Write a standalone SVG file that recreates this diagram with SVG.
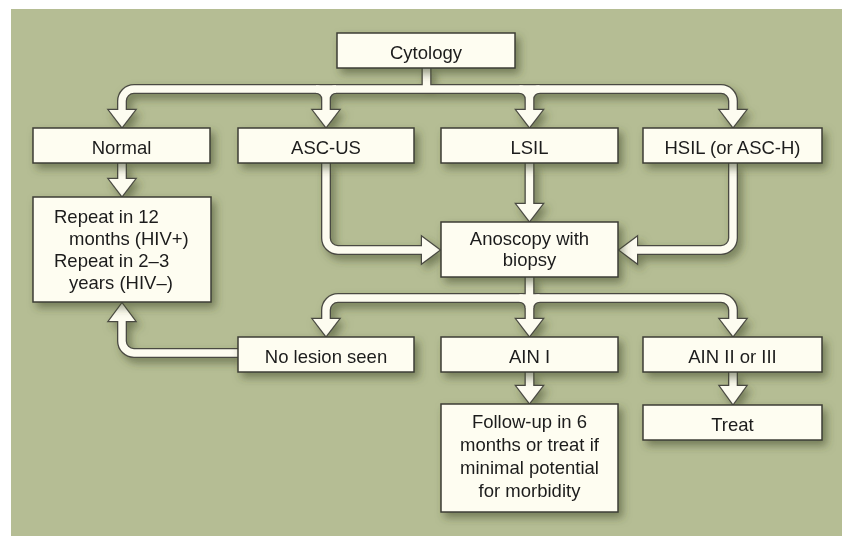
<svg xmlns="http://www.w3.org/2000/svg" width="842" height="536" viewBox="0 0 842 536">
<defs>
<filter id="sh" x="-20%" y="-20%" width="150%" height="180%">
<feDropShadow dx="4" dy="5" stdDeviation="4" flood-color="#3f4628" flood-opacity="0.55"/>
</filter>
</defs>
<style>
.box{fill:#fefdf1;stroke:#3e3e36;stroke-width:1.5}
.t{font-family:"Liberation Sans",Arial,sans-serif;font-size:18.5px;fill:#1c1c1c}
.c{text-anchor:middle}
.od{fill:none;stroke:#4a4a42;stroke-width:10}
.oc{fill:none;stroke:#fdfcf0;stroke-width:7.4}
.hd{fill:#4a4a42;stroke:#4a4a42;stroke-width:2.4;stroke-linejoin:miter}
.hc{fill:#fdfcf0}
</style>
<rect x="11" y="9" width="831" height="527" fill="#b5bd94"/>
<g id="connectors" filter="url(#sh)">
<g id="dark">
<path class="od" d="M426.5 68 V89"/>
<path class="od" d="M122 112 V101 A12 12 0 0 1 134 89 H721 A12 12 0 0 1 733 101 V112"/>
<path class="od" d="M316 89 A10 10 0 0 1 326 99 V112 M336 89 A10 10 0 0 0 326 99"/>
<path class="od" d="M519.5 89 A10 10 0 0 1 529.5 99 V112 M539.5 89 A10 10 0 0 0 529.5 99"/>
<path class="od" d="M122 163 V181"/>
<path class="od" d="M326 163 V238 A12 12 0 0 0 338 250 H424"/>
<path class="od" d="M733 163 V238 A12 12 0 0 1 721 250 H636"/>
<path class="od" d="M529.5 163 V206"/>
<path class="od" d="M529.5 277 V321"/>
<path class="od" d="M326 321 V310 A12 12 0 0 1 338 298 H721 A12 12 0 0 1 733 310 V321"/>
<path class="od" d="M519.5 298 A10 10 0 0 1 529.5 308 M539.5 298 A10 10 0 0 0 529.5 308"/>
<path class="od" d="M238 353 H134 A12 12 0 0 1 122 341 V319"/>
<path class="od" d="M529.5 372 V388"/>
<path class="od" d="M733 372 V388"/>
<polygon class="hd" points="109,110 135,110 122,127"/>
<polygon class="hd" points="313,110 339,110 326,127"/>
<polygon class="hd" points="516.5,110 542.5,110 529.5,127"/>
<polygon class="hd" points="720,110 746,110 733,127"/>
<polygon class="hd" points="109,179 135,179 122,196"/>
<polygon class="hd" points="422,237 422,263 439.5,250"/>
<polygon class="hd" points="637,237 637,263 619.5,250"/>
<polygon class="hd" points="516.5,204 542.5,204 529.5,221"/>
<polygon class="hd" points="313,319 339,319 326,336"/>
<polygon class="hd" points="516.5,319 542.5,319 529.5,336"/>
<polygon class="hd" points="720,319 746,319 733,336"/>
<polygon class="hd" points="109,321 135,321 122,303.5"/>
<polygon class="hd" points="516.5,386 542.5,386 529.5,403"/>
<polygon class="hd" points="720,386 746,386 733,404"/>
</g>
<g id="light">
<path class="oc" d="M426.5 67 V89"/>
<path class="oc" d="M122 112 V101 A12 12 0 0 1 134 89 H721 A12 12 0 0 1 733 101 V112"/>
<path class="oc" d="M316 89 A10 10 0 0 1 326 99 V112 M336 89 A10 10 0 0 0 326 99"/>
<path class="oc" d="M519.5 89 A10 10 0 0 1 529.5 99 V112 M539.5 89 A10 10 0 0 0 529.5 99"/>
<path class="oc" d="M122 163 V181"/>
<path class="oc" d="M326 163 V238 A12 12 0 0 0 338 250 H424"/>
<path class="oc" d="M733 163 V238 A12 12 0 0 1 721 250 H636"/>
<path class="oc" d="M529.5 163 V206"/>
<path class="oc" d="M529.5 276 V321"/>
<path class="oc" d="M326 321 V310 A12 12 0 0 1 338 298 H721 A12 12 0 0 1 733 310 V321"/>
<path class="oc" d="M519.5 298 A10 10 0 0 1 529.5 308 M539.5 298 A10 10 0 0 0 529.5 308"/>
<path class="oc" d="M239 353 H134 A12 12 0 0 1 122 341 V319"/>
<path class="oc" d="M529.5 372 V388"/>
<path class="oc" d="M733 372 V388"/>
<polygon class="hc" points="109,110 135,110 122,127"/>
<polygon class="hc" points="313,110 339,110 326,127"/>
<polygon class="hc" points="516.5,110 542.5,110 529.5,127"/>
<polygon class="hc" points="720,110 746,110 733,127"/>
<polygon class="hc" points="109,179 135,179 122,196"/>
<polygon class="hc" points="422,237 422,263 439.5,250"/>
<polygon class="hc" points="637,237 637,263 619.5,250"/>
<polygon class="hc" points="516.5,204 542.5,204 529.5,221"/>
<polygon class="hc" points="313,319 339,319 326,336"/>
<polygon class="hc" points="516.5,319 542.5,319 529.5,336"/>
<polygon class="hc" points="720,319 746,319 733,336"/>
<polygon class="hc" points="109,321 135,321 122,303.5"/>
<polygon class="hc" points="516.5,386 542.5,386 529.5,403"/>
<polygon class="hc" points="720,386 746,386 733,404"/>
</g>
</g>
<g id="cytology" filter="url(#sh)"><rect class="box" x="337" y="33" width="178" height="35"/><text class="t c" x="426" y="58.5">Cytology</text></g>
<g id="normal" filter="url(#sh)"><rect class="box" x="33" y="128" width="177" height="35"/><text class="t c" x="121.5" y="153.5">Normal</text></g>
<g id="ascus" filter="url(#sh)"><rect class="box" x="238" y="128" width="176" height="35"/><text class="t c" x="326" y="153.5">ASC-US</text></g>
<g id="lsil" filter="url(#sh)"><rect class="box" x="441" y="128" width="177" height="35"/><text class="t c" x="529.5" y="153.5">LSIL</text></g>
<g id="hsil" filter="url(#sh)"><rect class="box" x="643" y="128" width="179" height="35"/><text class="t c" x="732.5" y="153.5">HSIL (or ASC-H)</text></g>
<g id="repeat" filter="url(#sh)"><rect class="box" x="33" y="197" width="178" height="105"/>
<text class="t" x="54" y="223">Repeat in 12</text>
<text class="t" x="69" y="245">months (HIV+)</text>
<text class="t" x="54" y="267">Repeat in 2–3</text>
<text class="t" x="69" y="289">years (HIV–)</text></g>
<g id="anoscopy" filter="url(#sh)"><rect class="box" x="441" y="222" width="177" height="55"/>
<text class="t c" x="529.5" y="245">Anoscopy with</text>
<text class="t c" x="529.5" y="266">biopsy</text></g>
<g id="nolesion" filter="url(#sh)"><rect class="box" x="238" y="337" width="176" height="35"/><text class="t c" x="326" y="362.5">No lesion seen</text></g>
<g id="ain1" filter="url(#sh)"><rect class="box" x="441" y="337" width="177" height="35"/><text class="t c" x="529.5" y="362.5">AIN I</text></g>
<g id="ain23" filter="url(#sh)"><rect class="box" x="643" y="337" width="179" height="35"/><text class="t c" x="732.5" y="362.5">AIN II or III</text></g>
<g id="followup" filter="url(#sh)"><rect class="box" x="441" y="404" width="177" height="108"/>
<text class="t c" x="529.5" y="428">Follow-up in 6</text>
<text class="t c" x="529.5" y="451">months or treat if</text>
<text class="t c" x="529.5" y="474">minimal potential</text>
<text class="t c" x="529.5" y="497">for morbidity</text></g>
<g id="treat" filter="url(#sh)"><rect class="box" x="643" y="405" width="179" height="35"/><text class="t c" x="732.5" y="430.5">Treat</text></g>
</svg>
